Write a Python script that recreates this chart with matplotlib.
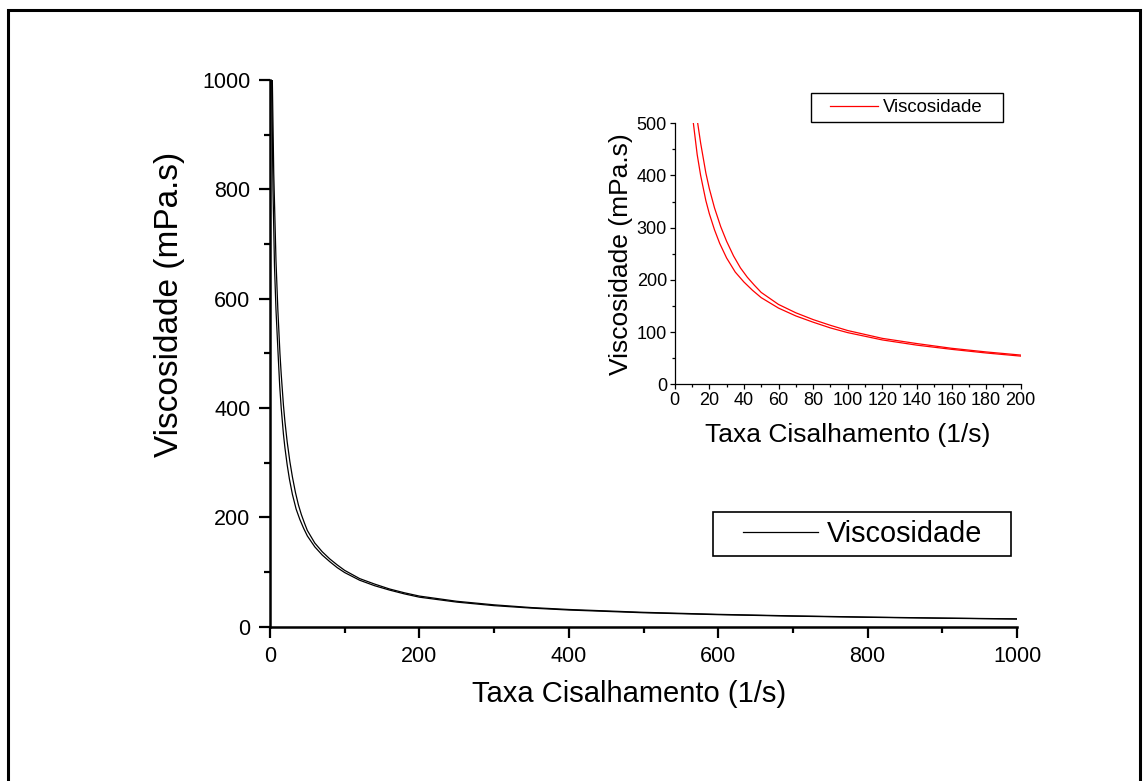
import numpy as np
import matplotlib
matplotlib.use('Agg')
import matplotlib.pyplot as plt
from matplotlib.patches import Rectangle
from matplotlib.ticker import MultipleLocator

plt.rcParams['font.family'] = ['Liberation Sans', 'DejaVu Sans']

# Curve data (shear rate in 1/s, viscosity in mPa.s)
rate_a = [1.5, 4, 6, 8, 10.8, 13, 15, 18, 20, 23, 26, 30, 35, 40, 45, 50, 60, 70, 80, 90, 100,
          120, 140, 160, 180, 200, 250, 300, 350, 400, 500, 600, 700, 800, 900, 1000]
visc_a = [1100, 800, 660, 580, 500, 440, 400, 352, 327, 296, 270, 242, 215, 196, 180, 166, 146, 131, 119, 108, 99,
          85, 75, 67, 60, 54, 45, 38.5, 34, 30.5, 25.5, 22, 19.3, 17.2, 15.5, 14]

rate_b = [2, 5, 8, 10.5, 13.3, 15, 18, 20, 23, 26.6, 30, 34, 38, 42, 46, 50, 60, 70, 80, 90, 100,
          120, 140, 160, 180, 200, 250, 300, 350, 400, 500, 600, 700, 800, 900, 1000]
visc_b = [1100, 830, 670, 580, 500, 462, 405, 375, 338, 302, 274, 246, 223, 205, 190, 176, 153, 137, 124, 113, 103,
          88, 78, 69, 62, 56, 46.5, 40, 35, 31.5, 26.3, 22.6, 19.8, 17.6, 15.8, 14.3]

legend_label = 'Viscosidade'
x_label = 'Taxa Cisalhamento (1/s)'
y_label = 'Viscosidade (mPa.s)'

fig = plt.figure(figsize=(11.47, 7.81), dpi=100)

# outer frame
fig.patches.append(Rectangle((8 / 1147, -0.01), 1132 / 1147, 1 - 10 / 781 + 0.01,
                             transform=fig.transFigure, fill=False, lw=2.2, ec='black'))

# main plot
ax = fig.add_axes([270 / 1147, 1 - 626.7 / 781, 747 / 1147, 546.7 / 781])
ax.plot(rate_a, visc_a, color='black', lw=0.9, label=legend_label)
ax.plot(rate_b, visc_b, color='black', lw=0.9)
ax.set_xlim(0, 1000)
ax.set_ylim(0, 1000)
ax.xaxis.set_major_locator(MultipleLocator(200))
ax.xaxis.set_minor_locator(MultipleLocator(100))
ax.yaxis.set_major_locator(MultipleLocator(200))
ax.yaxis.set_minor_locator(MultipleLocator(100))
for side in ['top', 'right']:
    ax.spines[side].set_visible(False)
for side in ['left', 'bottom']:
    ax.spines[side].set_linewidth(1.8)
ax.tick_params(which='major', direction='out', length=8, width=1.6, labelsize=15.5, pad=6)
ax.tick_params(which='minor', direction='out', length=4.5, width=1.6)
ax.set_xlabel(x_label, fontsize=21)
ax.set_ylabel(y_label, fontsize=24)
ax.xaxis.set_label_coords(359 / 747, -53 / 546.7)
ax.yaxis.set_label_coords(-85 / 747, 322.7 / 546.7)

# legend box drawn by hand (wider side padding than matplotlib allows)
ax.add_patch(Rectangle((443 / 747, 70.7 / 546.7), 298 / 747, 44 / 546.7, transform=ax.transAxes,
                       fill=False, ec='black', lw=1.2, clip_on=False))
ax.legend(loc='center left', bbox_to_anchor=(473 / 747, 92.7 / 546.7), fontsize=20.8,
          frameon=False, handlelength=2.6, handletextpad=0.3, borderpad=0, borderaxespad=0)

# inset
axi = fig.add_axes([674.7 / 1147, 1 - 384.3 / 781, 346 / 1147, 261 / 781])
axi.plot(rate_a, visc_a, color='red', lw=0.9, label=legend_label)
axi.plot(rate_b, visc_b, color='red', lw=0.9)
axi.set_xlim(0, 200)
axi.set_ylim(0, 500)
axi.xaxis.set_major_locator(MultipleLocator(20))
axi.xaxis.set_minor_locator(MultipleLocator(10))
axi.yaxis.set_major_locator(MultipleLocator(100))
axi.yaxis.set_minor_locator(MultipleLocator(50))
for side in ['top', 'right']:
    axi.spines[side].set_visible(False)
for side in ['left', 'bottom']:
    axi.spines[side].set_linewidth(0.9)
axi.tick_params(which='major', direction='out', length=3.5, width=0.9, labelsize=13, pad=2)
axi.tick_params(which='minor', direction='out', length=2, width=0.9)
axi.set_xlabel(x_label, fontsize=19, labelpad=10)
axi.set_ylabel(y_label, fontsize=19, labelpad=3)

axi.add_patch(Rectangle((136.3 / 346, 262.3 / 261), 192 / 346, 29 / 261, transform=axi.transAxes,
                        fill=False, ec='black', lw=1.0, clip_on=False))
axi.legend(loc='center left', bbox_to_anchor=(155.3 / 346, 276.8 / 261), fontsize=13.4,
           frameon=False, handlelength=2.6, handletextpad=0.27, borderpad=0, borderaxespad=0)

fig.savefig('out.png', dpi=100)
